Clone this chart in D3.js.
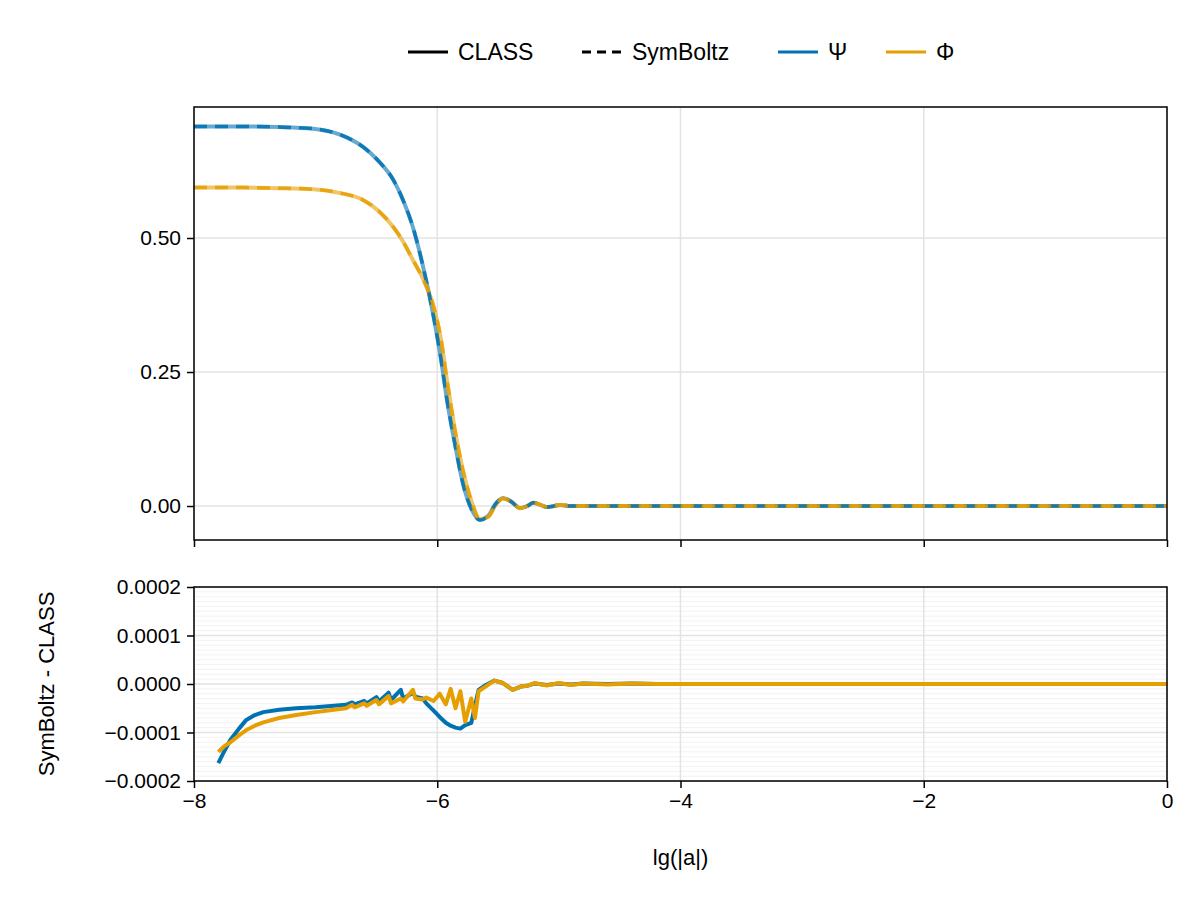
<!DOCTYPE html>
<html><head><meta charset="utf-8">
<script src="https://cdn.jsdelivr.net/npm/d3@7"></script>
<style>body{margin:0;background:#fff}text{font-family:"Liberation Sans","DejaVu Sans",sans-serif}</style>
</head><body><svg id="chart" width="1200" height="900"></svg>
<script>
// potentials vs lg(a)
var lgA   = [-8, -7.6, -7.3, -7.02, -6.8, -6.61, -6.48, -6.36, -6.28, -6.2, -6.12, -6.03, -5.97, -5.92, -5.85, -5.79, -5.72, -5.65, -5.58, -5.52, -5.46, -5.39, -5.32, -5.26, -5.21, -5.15, -5.1, -5.04, -4.99, -4.9, -4.8, -4, -2, 0];
var psi   = [0.708, 0.708, 0.707, 0.704, 0.693, 0.670, 0.643, 0.608, 0.570, 0.520, 0.450, 0.353, 0.275, 0.198, 0.110, 0.043, -0.005, -0.026, -0.018, 0.004, 0.015, 0.008, -0.004, 0.000, 0.006, 0.002, -0.002, 0.000, 0.002, 0.000, 0.000, 0, 0, 0];
var phi   = [0.594, 0.594, 0.593, 0.591, 0.584, 0.571, 0.550, 0.520, 0.493, 0.459, 0.425, 0.372, 0.312, 0.235, 0.136, 0.068, 0.010, -0.024, -0.020, 0.002, 0.014, 0.008, -0.004, 0.000, 0.006, 0.002, -0.002, 0.000, 0.002, 0.000, 0.000, 0, 0, 0];

// SymBoltz - CLASS difference
var lgAd  = [-7.8, -7.75, -7.7, -7.63, -7.57, -7.5, -7.43, -7.3, -7.16, -7.0, -6.85, -6.75, -6.7, -6.68, -6.6, -6.58, -6.5, -6.48, -6.4, -6.38, -6.3, -6.28, -6.2, -6.18, -6.12, -6.09, -6.03, -5.98, -5.93, -5.89, -5.85, -5.81, -5.77, -5.72, -5.69, -5.66, -5.6, -5.53, -5.46, -5.38, -5.31, -5.25, -5.2, -5.1, -5.0, -4.9, -4.8, -4.6, -4.4, -4.2, -4, -2, 0];
var dPsi  = [-0.000163, -0.000138, -0.000115, -0.000092, -0.000074, -0.000064, -0.000058, -0.000053, -0.000050, -0.000048, -0.000045, -0.000043, -0.000038, -0.000042, -0.000035, -0.000040, -0.000027, -0.000036, -0.000018, -0.000033, -0.000012, -0.000030, -0.000018, -0.000026, -0.000030, -0.000040, -0.000055, -0.000068, -0.000080, -0.000086, -0.000090, -0.000092, -0.000085, -0.000080, -0.000045, -0.000012, -0.000002, 0.000007, 0.000002, -0.000012, -0.000005, -0.000003, 0.000001, -0.000002, 0.000001, -0.000001, 0.000001, 0, 0.000001, 0, 0, 0, 0];
var dPhi  = [-0.000140, -0.000128, -0.000120, -0.000106, -0.000095, -0.000086, -0.000079, -0.000070, -0.000064, -0.000058, -0.000053, -0.000050, -0.000043, -0.000048, -0.000040, -0.000045, -0.000033, -0.000042, -0.000025, -0.000040, -0.000030, -0.000036, -0.000012, -0.000030, -0.000032, -0.000028, -0.000035, -0.000020, -0.000042, -0.000010, -0.000050, -0.000015, -0.000078, -0.000030, -0.000070, -0.000015, -0.000005, 0.000007, 0.000002, -0.000012, -0.000005, -0.000003, 0.000002, -0.000003, 0.000002, -0.000002, 0.000001, -0.000001, 0.000001, 0, 0, 0, 0];

var xTicks = [-8, -6, -4, -2, 0];
var yTicksTop = [0, 0.25, 0.5];
var yTicksBot = [-0.0002, -0.0001, 0, 0.0001, 0.0002];

var blue = '#0072b2', orange = '#e69f00';
var svg = d3.select('#chart');
var L = 194, R = 1167;

var x = d3.scaleLinear().domain([-8, 0]).range([L, R]);
var yT = d3.scaleLinear().domain([-0.0634, 0.7444]).range([540, 107]);
var yB = d3.scaleLinear().domain([-0.0002, 0.0002]).range([781, 587]);

// grids
var minor = d3.range(-20, 21).map(function(i){ return i * 0.00001; });
svg.append('g').selectAll('line').data(minor).join('line')
  .attr('x1', L).attr('x2', R).attr('y1', yB).attr('y2', yB).attr('stroke', '#f2f2f2');
svg.append('g').selectAll('line').data(xTicks).join('line')
  .attr('x1', x).attr('x2', x).attr('y1', 587).attr('y2', 781).attr('stroke', '#e3e3e3').attr('stroke-width', 1.5);
svg.append('g').selectAll('line').data(yTicksBot).join('line')
  .attr('x1', L).attr('x2', R).attr('y1', yB).attr('y2', yB).attr('stroke', '#e3e3e3').attr('stroke-width', 1.5);
svg.append('g').selectAll('line').data(yTicksTop).join('line')
  .attr('x1', L).attr('x2', R).attr('y1', yT).attr('y2', yT).attr('stroke', '#e3e3e3').attr('stroke-width', 1.5);
svg.append('g').selectAll('line').data(xTicks).join('line')
  .attr('x1', x).attr('x2', x).attr('y1', 107).attr('y2', 540).attr('stroke', '#e3e3e3').attr('stroke-width', 1.5);

// top curves: CLASS solid (faded), SymBoltz dashed on top
var lineT = d3.line().x(function(d){ return x(d[0]); }).y(function(d){ return yT(d[1]); }).curve(d3.curveMonotoneX);
[[psi, blue], [phi, orange]].forEach(function(s){
  svg.append('path').attr('d', lineT(d3.zip(lgA, s[0]))).attr('fill', 'none')
    .attr('stroke', s[1]).attr('stroke-opacity', 0.6).attr('stroke-width', 4);
});
[[psi, blue], [phi, orange]].forEach(function(s){
  svg.append('path').attr('d', lineT(d3.zip(lgA, s[0]))).attr('fill', 'none')
    .attr('stroke', s[1]).attr('stroke-opacity', 0.85).attr('stroke-width', 3.5).attr('stroke-dasharray', '13,8');
});

// bottom curves
var lineB = d3.line().x(function(d){ return x(d[0]); }).y(function(d){ return yB(d[1]); });
[[dPsi, blue], [dPhi, orange]].forEach(function(s){
  svg.append('path').attr('d', lineB(d3.zip(lgAd, s[0]))).attr('fill', 'none')
    .attr('stroke', s[1]).attr('stroke-width', 4).attr('stroke-linejoin', 'round');
});

// frames and axes
[[107, 540], [587, 781]].forEach(function(p){
  svg.append('rect').attr('x', L).attr('y', p[0]).attr('width', R - L).attr('height', p[1] - p[0])
    .attr('fill', 'none').attr('stroke', '#000').attr('stroke-width', 1.5);
});
svg.append('g').attr('transform', 'translate(0,540)')
  .call(d3.axisBottom(x).tickValues(xTicks).tickFormat('').tickSizeOuter(0).tickSize(7))
  .call(function(g){ g.select('.domain').remove(); g.selectAll('line').attr('stroke-width', 1.5); });
var fmtMinus = function(s){ return s.replace('-', '\u2212'); };
svg.append('g').attr('transform', 'translate(0,781)')
  .call(d3.axisBottom(x).tickValues(xTicks).tickFormat(function(d){ return fmtMinus(String(d)); }).tickSizeOuter(0).tickSize(7).tickPadding(5))
  .call(function(g){ g.select('.domain').remove(); g.selectAll('line').attr('stroke-width', 1.5);
    g.selectAll('text').attr('font-size', 21).attr('fill', '#000'); });
svg.append('g').attr('transform', 'translate(' + L + ',0)')
  .call(d3.axisLeft(yT).tickValues(yTicksTop).tickFormat(d3.format('.2f')).tickSizeOuter(0).tickSize(7).tickPadding(6))
  .call(function(g){ g.select('.domain').remove(); g.selectAll('line').attr('stroke-width', 1.5);
    g.selectAll('text').attr('font-size', 21).attr('fill', '#000'); });
svg.append('g').attr('transform', 'translate(' + L + ',0)')
  .call(d3.axisLeft(yB).tickValues(yTicksBot).tickFormat(function(d){ return fmtMinus(d3.format('.4f')(d)); }).tickSizeOuter(0).tickSize(7).tickPadding(6))
  .call(function(g){ g.select('.domain').remove(); g.selectAll('line').attr('stroke-width', 1.5);
    g.selectAll('text').attr('font-size', 21).attr('fill', '#000'); });

svg.append('text').attr('x', (L + R) / 2).attr('y', 865).attr('text-anchor', 'middle')
  .attr('font-size', 22).text('lg(|a|)');
svg.append('text').attr('transform', 'translate(54,684) rotate(-90)').attr('text-anchor', 'middle')
  .attr('font-size', 22).text('SymBoltz - CLASS');

// legend
var legend = [
  {label: 'CLASS', color: '#000', dash: null, x: 408},
  {label: 'SymBoltz', color: '#000', dash: '9,6', x: 582},
  {label: '\u03a8', color: blue, dash: null, x: 778},
  {label: '\u03a6', color: orange, dash: null, x: 886}
];
var lg = svg.append('g').selectAll('g').data(legend).join('g')
  .attr('transform', function(d){ return 'translate(' + d.x + ',52)'; });
lg.append('line').attr('x1', 0).attr('x2', 40).attr('stroke', function(d){ return d.color; })
  .attr('stroke-width', 3).attr('stroke-dasharray', function(d){ return d.dash; });
lg.append('text').attr('x', 50).attr('dy', '0.35em').attr('font-size', 23)
  .text(function(d){ return d.label; });
</script></body></html>
